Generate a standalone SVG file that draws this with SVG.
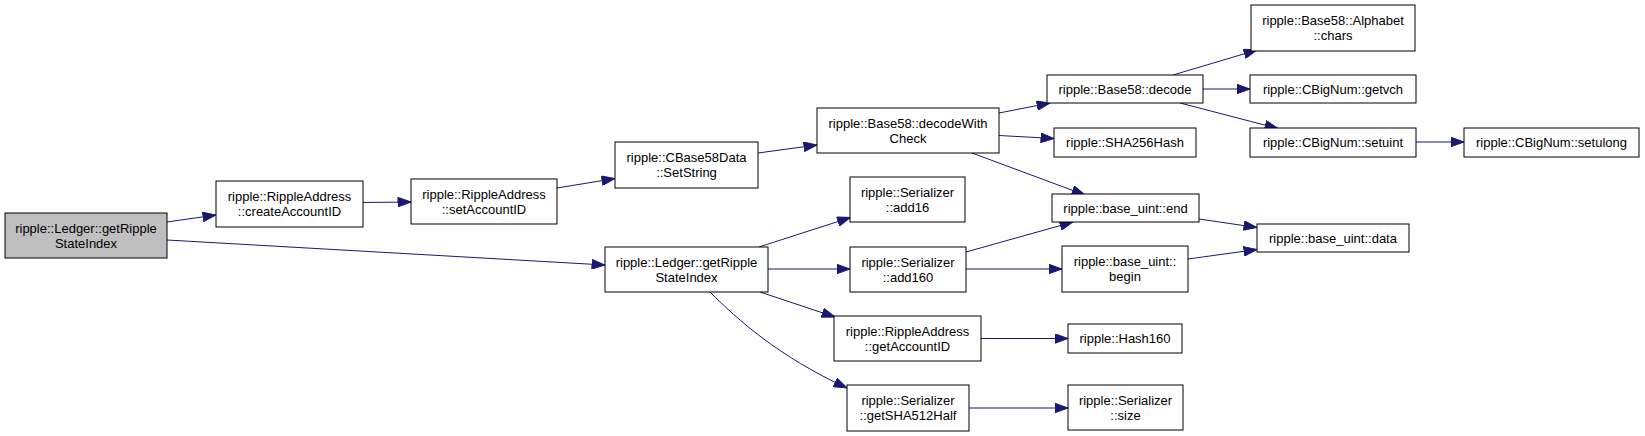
<svg xmlns="http://www.w3.org/2000/svg" width="1645" height="436" viewBox="0 0 1645 436">
<style>
.n rect{fill:#ffffff;stroke:#000000;stroke-width:1}
.n.root rect{fill:#bfbfbf}
.n text{font-family:"Liberation Sans",Arial,sans-serif;font-size:13px;fill:#000000;text-anchor:middle}
.e{fill:none;stroke:#191970;stroke-width:1;marker-end:url(#ah)}
</style>
<defs>
<marker id="ah" markerUnits="userSpaceOnUse" markerWidth="14" markerHeight="10" viewBox="0 0 13 10" refX="13" refY="5" orient="auto">
<path d="M0,0.3 L13,5 L0,9.7 z" fill="#191970" stroke="#191970" stroke-width="1"/>
</marker>
</defs>
<rect x="0" y="0" width="1645" height="436" fill="#ffffff"/>
<g id="connectors">
<path class="e" d="M167,222 L216,215"/>
<path class="e" d="M167,240 L605,265"/>
<path class="e" d="M363,202.5 L411,202"/>
<path class="e" d="M557,188 L615,178.5"/>
<path class="e" d="M758,153 L817,145"/>
<path class="e" d="M999,113 L1050,103"/>
<path class="e" d="M999,135.5 L1054,138.5"/>
<path class="e" d="M972,153 L1085,195"/>
<path class="e" d="M1173,75 L1257,50"/>
<path class="e" d="M1203,89 L1250,89"/>
<path class="e" d="M1180,103 L1278,128.5"/>
<path class="e" d="M1416,142 L1464,142"/>
<path class="e" d="M759,247 L850.5,217.5"/>
<path class="e" d="M768,269 L850,269"/>
<path class="e" d="M760,292 L835,317"/>
<path class="e" d="M710,292 C738,320 778,356 847,388"/>
<path class="e" d="M966,252 L1073,222"/>
<path class="e" d="M966,269 L1062,269"/>
<path class="e" d="M1199,219 L1257,227.5"/>
<path class="e" d="M1188,259 L1257,249.5"/>
<path class="e" d="M981,338.5 L1068,338.5"/>
<path class="e" d="M969,408 L1068,408"/>
</g>
<g id="n_ledger" class="n root"><rect x="5" y="213" width="162" height="45"/><text x="86" y="232.5">ripple::Ledger::getRipple</text><text x="86" y="248">StateIndex</text></g>
<g id="n_createAccountID" class="n"><rect x="216" y="181" width="147" height="46"/><text x="289.5" y="200.5">ripple::RippleAddress</text><text x="289.5" y="216">::createAccountID</text></g>
<g id="n_setAccountID" class="n"><rect x="411" y="179" width="146" height="45"/><text x="484" y="198.5">ripple::RippleAddress</text><text x="484" y="214">::setAccountID</text></g>
<g id="n_SetString" class="n"><rect x="615" y="142" width="143" height="46"/><text x="686.5" y="161.5">ripple::CBase58Data</text><text x="686.5" y="177">::SetString</text></g>
<g id="n_decodeWithCheck" class="n"><rect x="817" y="108" width="182" height="45"/><text x="908" y="127.5">ripple::Base58::decodeWith</text><text x="908" y="143">Check</text></g>
<g id="n_decode" class="n"><rect x="1047" y="75" width="156" height="28"/><text x="1125" y="93.5">ripple::Base58::decode</text></g>
<g id="n_SHA256Hash" class="n"><rect x="1054" y="128" width="142" height="29"/><text x="1125" y="147">ripple::SHA256Hash</text></g>
<g id="n_chars" class="n"><rect x="1251" y="5" width="164" height="46"/><text x="1333" y="24.5">ripple::Base58::Alphabet</text><text x="1333" y="40">::chars</text></g>
<g id="n_getvch" class="n"><rect x="1250" y="75" width="166" height="28"/><text x="1333" y="93.5">ripple::CBigNum::getvch</text></g>
<g id="n_setuint" class="n"><rect x="1250" y="128" width="166" height="29"/><text x="1333" y="147">ripple::CBigNum::setuint</text></g>
<g id="n_setulong" class="n"><rect x="1464" y="128" width="175" height="29"/><text x="1551.5" y="147">ripple::CBigNum::setulong</text></g>
<g id="n_getRippleStateIndex" class="n"><rect x="605" y="247" width="163" height="45"/><text x="686.5" y="266.5">ripple::Ledger::getRipple</text><text x="686.5" y="282">StateIndex</text></g>
<g id="n_add16" class="n"><rect x="850" y="177" width="115" height="45"/><text x="907.5" y="196.5">ripple::Serializer</text><text x="907.5" y="212">::add16</text></g>
<g id="n_add160" class="n"><rect x="850" y="247" width="116" height="45"/><text x="908" y="266.5">ripple::Serializer</text><text x="908" y="282">::add160</text></g>
<g id="n_getAccountID" class="n"><rect x="834" y="316" width="147" height="45"/><text x="907.5" y="335.5">ripple::RippleAddress</text><text x="907.5" y="351">::getAccountID</text></g>
<g id="n_getSHA512Half" class="n"><rect x="847" y="385" width="122" height="46"/><text x="908" y="404.5">ripple::Serializer</text><text x="908" y="420">::getSHA512Half</text></g>
<g id="n_end" class="n"><rect x="1052" y="194" width="147" height="28"/><text x="1125.5" y="212.5">ripple::base_uint::end</text></g>
<g id="n_begin" class="n"><rect x="1062" y="246" width="126" height="46"/><text x="1125" y="265.5">ripple::base_uint::</text><text x="1125" y="281">begin</text></g>
<g id="n_data" class="n"><rect x="1257" y="224" width="152" height="28"/><text x="1333" y="242.5">ripple::base_uint::data</text></g>
<g id="n_Hash160" class="n"><rect x="1068" y="324" width="114" height="29"/><text x="1125" y="343">ripple::Hash160</text></g>
<g id="n_size" class="n"><rect x="1068" y="385" width="115" height="45"/><text x="1125.5" y="404.5">ripple::Serializer</text><text x="1125.5" y="420">::size</text></g>
</svg>
